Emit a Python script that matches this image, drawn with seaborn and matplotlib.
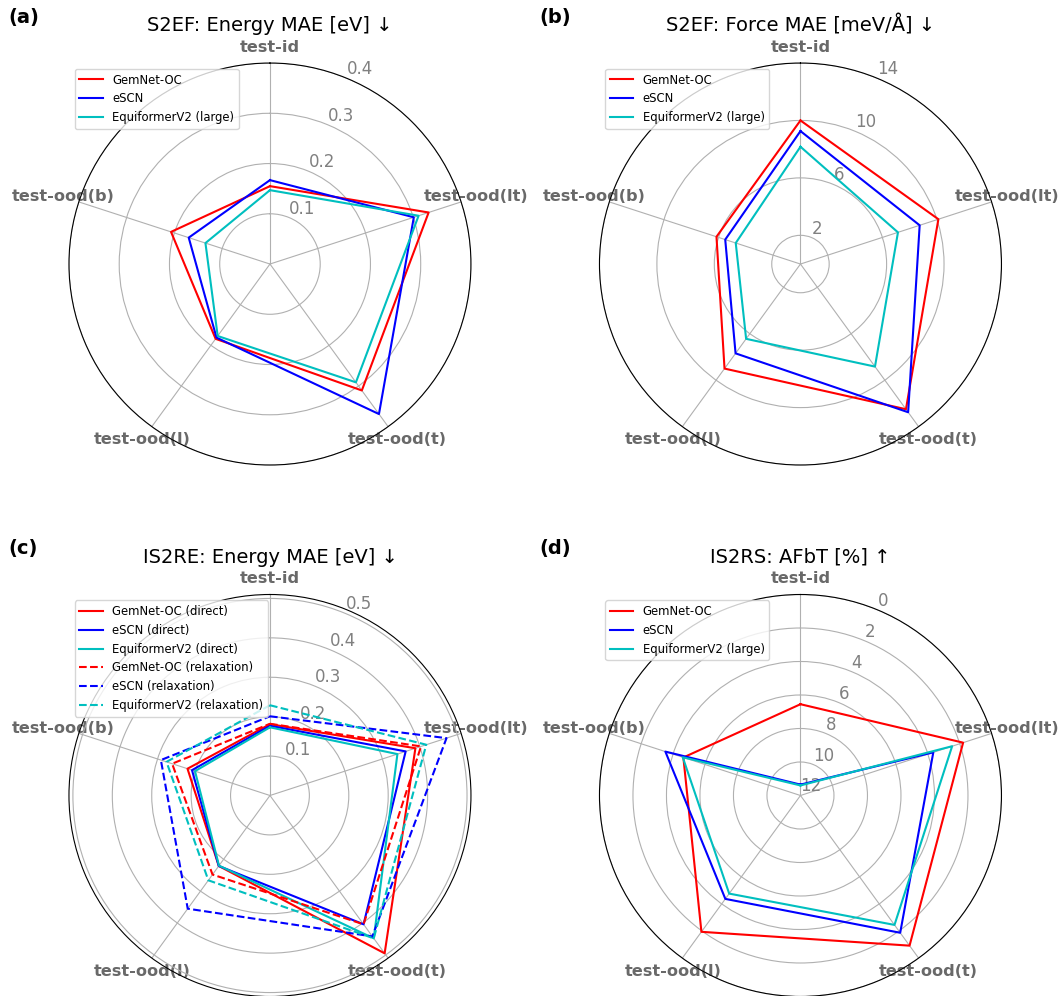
import numpy as np
import matplotlib
matplotlib.use("Agg")
import matplotlib.pyplot as plt
import seaborn as sns

# axes clockwise from the top
categories = ["test-id", "test-ood(lt)", "test-ood(t)", "test-ood(l)", "test-ood(b)"]

# (a) S2EF energy MAE [eV]
s2ef_energy_gemnet = [0.155, 0.332, 0.311, 0.184, 0.207]
s2ef_energy_escn = [0.167, 0.301, 0.369, 0.181, 0.170]
s2ef_energy_eqv2 = [0.147, 0.311, 0.291, 0.177, 0.135]

# (b) S2EF force MAE [meV/A]
s2ef_force_gemnet = [10.0, 10.1, 12.5, 9.0, 6.15]
s2ef_force_escn = [9.26, 8.73, 12.76, 7.69, 5.51]
s2ef_force_eqv2 = [8.17, 7.14, 8.83, 6.44, 4.74]

# (c) IS2RE energy MAE [eV]
is2re_gemnet_direct = [0.181, 0.388, 0.495, 0.221, 0.220]
is2re_escn_direct = [0.177, 0.362, 0.404, 0.221, 0.208]
is2re_eqv2_direct = [0.173, 0.340, 0.448, 0.220, 0.200]
is2re_gemnet_relax = [0.182, 0.403, 0.404, 0.248, 0.261]
is2re_escn_relax = [0.201, 0.471, 0.442, 0.355, 0.291]
is2re_eqv2_relax = [0.229, 0.417, 0.448, 0.266, 0.276]

# (d) IS2RS AFbT [%]
is2rs_gemnet = [6.55, 1.79, 0.92, 1.94, 4.65]
is2rs_escn = [11.35, 3.66, 1.87, 4.37, 3.52]
is2rs_eqv2 = [11.4, 2.48, 2.45, 4.76, 4.61]

angles = np.linspace(0, 2 * np.pi, len(categories), endpoint=False)
angles_closed = np.append(angles, 2 * np.pi)


def radar(ax, series, title, rticks, rlim):
    for vals, label, color, ls in series:
        closed = list(vals) + [vals[0]]
        sns.lineplot(x=angles_closed, y=closed, ax=ax, color=color, linestyle=ls,
                     linewidth=1.5, label=label, sort=False, legend=False)
    ax.set_theta_offset(np.pi / 2)
    ax.set_theta_direction(-1)
    ax.set_xticks(angles)
    ax.set_xticklabels(categories, fontsize=11.6, fontweight="bold", color="dimgray")
    ax.tick_params(axis="x", pad=1)
    ax.set_ylim(*rlim)
    ax.set_yticks(rticks)
    ax.set_yticklabels([str(t) for t in rticks], fontsize=12, color="gray")
    ax.set_xlabel("")
    ax.set_ylabel("")
    ax.set_title(title, fontsize=14)
    ax.legend(loc="upper left", fontsize=8.4)


fig = plt.figure(figsize=(10.61, 9.96), dpi=100)
w, h = 402 / 1061, 402 / 996
ax_a = fig.add_axes([0.0650, 0.5331, w, h], projection="polar")
ax_b = fig.add_axes([0.5650, 0.5331, w, h], projection="polar")
ax_c = fig.add_axes([0.0650, -0.0005, w, h], projection="polar")
ax_d = fig.add_axes([0.5650, -0.0005, w, h], projection="polar")

radar(ax_a, [(s2ef_energy_gemnet, "GemNet-OC", "r", "-"),
             (s2ef_energy_escn, "eSCN", "b", "-"),
             (s2ef_energy_eqv2, "EquiformerV2 (large)", "c", "-")],
      "S2EF: Energy MAE [eV] ↓", [0.1, 0.2, 0.3, 0.4], (0, 0.4))

radar(ax_b, [(s2ef_force_gemnet, "GemNet-OC", "r", "-"),
             (s2ef_force_escn, "eSCN", "b", "-"),
             (s2ef_force_eqv2, "EquiformerV2 (large)", "c", "-")],
      "S2EF: Force MAE [meV/Å] ↓", [2, 6, 10, 14], (0, 14))

radar(ax_c, [(is2re_gemnet_direct, "GemNet-OC (direct)", "r", "-"),
             (is2re_escn_direct, "eSCN (direct)", "b", "-"),
             (is2re_eqv2_direct, "EquiformerV2 (direct)", "c", "-"),
             (is2re_gemnet_relax, "GemNet-OC (relaxation)", "r", "--"),
             (is2re_escn_relax, "eSCN (relaxation)", "b", "--"),
             (is2re_eqv2_relax, "EquiformerV2 (relaxation)", "c", "--")],
      "IS2RE: Energy MAE [eV] ↓", [0.1, 0.2, 0.3, 0.4, 0.5], (0, 0.51))

radar(ax_d, [(is2rs_gemnet, "GemNet-OC", "r", "-"),
             (is2rs_escn, "eSCN", "b", "-"),
             (is2rs_eqv2, "EquiformerV2 (large)", "c", "-")],
      "IS2RS: AFbT [%] ↑", [0, 2, 4, 6, 8, 10, 12], (12, 0))

for x, y, letter in [(0.008, 0.992, "(a)"), (0.508, 0.992, "(b)"),
                     (0.008, 0.459, "(c)"), (0.508, 0.459, "(d)")]:
    fig.text(x, y, letter, fontsize=14, fontweight="bold", va="top", ha="left")

fig.savefig("out.png", dpi=100)
